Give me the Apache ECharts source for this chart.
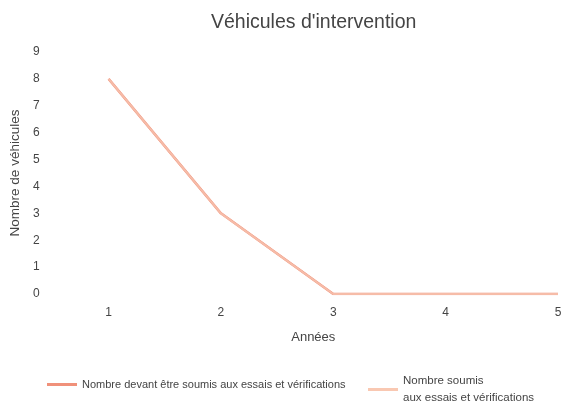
<!DOCTYPE html>
<html lang="fr">
<head>
    <meta charset="UTF-8">
    <title>Véhicules d'intervention</title>
    <style>
        body { margin: 0; background: #fff; }
        #chart { width: 579px; height: 407px; }
    </style>
</head>
<body>
    <div id="chart"></div>
    <script src="https://cdn.jsdelivr.net/npm/echarts@6/dist/echarts.min.js"></script>
    <script>
        // Données
        const years = ['1', '2', '3', '4', '5'];
        const requis = [8, 3, 0, 0, 0];
        const soumis = [8, 3, 0, 0, 0];
        const nameRequis = 'Nombre devant être soumis aux essais et vérifications';
        const nameSoumis = 'Nombre soumis aux essais et vérifications';

        const font = '"Liberation Sans", Arial, sans-serif';
        const chart = echarts.init(document.getElementById('chart'));

        chart.setOption({
            animation: false,
            textStyle: { fontFamily: font },
            title: {
                text: "Véhicules d'intervention",
                left: 206, top: 8,
                textStyle: { fontSize: 19.5, fontWeight: 'normal', color: '#444', fontFamily: font }
            },
            legend: [{
                data: [nameRequis],
                left: 42, top: 374,
                itemWidth: 30, itemHeight: 3,
                itemGap: 4,
                icon: 'rect',
                textStyle: { fontSize: 11, color: '#444', fontFamily: font }
            }, {
                data: [nameSoumis],
                left: 363, top: 359,
                itemWidth: 30, itemHeight: 3,
                icon: 'rect',
                formatter: () => 'Nombre soumis\naux essais et vérifications',
                textStyle: { fontSize: 11.5, color: '#444', fontFamily: font, lineHeight: 17, padding: [17, 0, 0, 0] }
            }],
            grid: { left: 107, right: 21, top: 52, bottom: 113 },
            xAxis: {
                type: 'category',
                data: years,
                boundaryGap: false,
                name: 'Années',
                nameLocation: 'middle',
                nameGap: 37,
                nameTextStyle: { fontSize: 13, color: '#444', fontFamily: font, padding: [0, 40, 0, 0] },
                axisLine: { show: false },
                axisTick: { show: false },
                axisLabel: { fontSize: 12, color: '#444', margin: 13 }
            },
            yAxis: {
                type: 'value',
                min: 0, max: 9, interval: 1,
                name: 'Nombre de véhicules',
                nameLocation: 'middle',
                nameGap: 84,
                nameTextStyle: { fontSize: 13.5, color: '#444', fontFamily: font },
                splitLine: { show: false },
                axisLine: { show: false },
                axisTick: { show: false },
                axisLabel: { fontSize: 12, color: '#444', margin: 69 }
            },
            series: [{
                name: nameRequis,
                type: 'line',
                data: requis,
                symbol: 'none',
                color: '#F0917A',
                lineStyle: { width: 2.5, color: '#F0917A' }
            }, {
                name: nameSoumis,
                type: 'line',
                data: soumis,
                symbol: 'none',
                color: '#F9C8B2',
                lineStyle: { width: 2, color: '#F6BCA8' }
            }]
        });
    </script>
</body>
</html>
